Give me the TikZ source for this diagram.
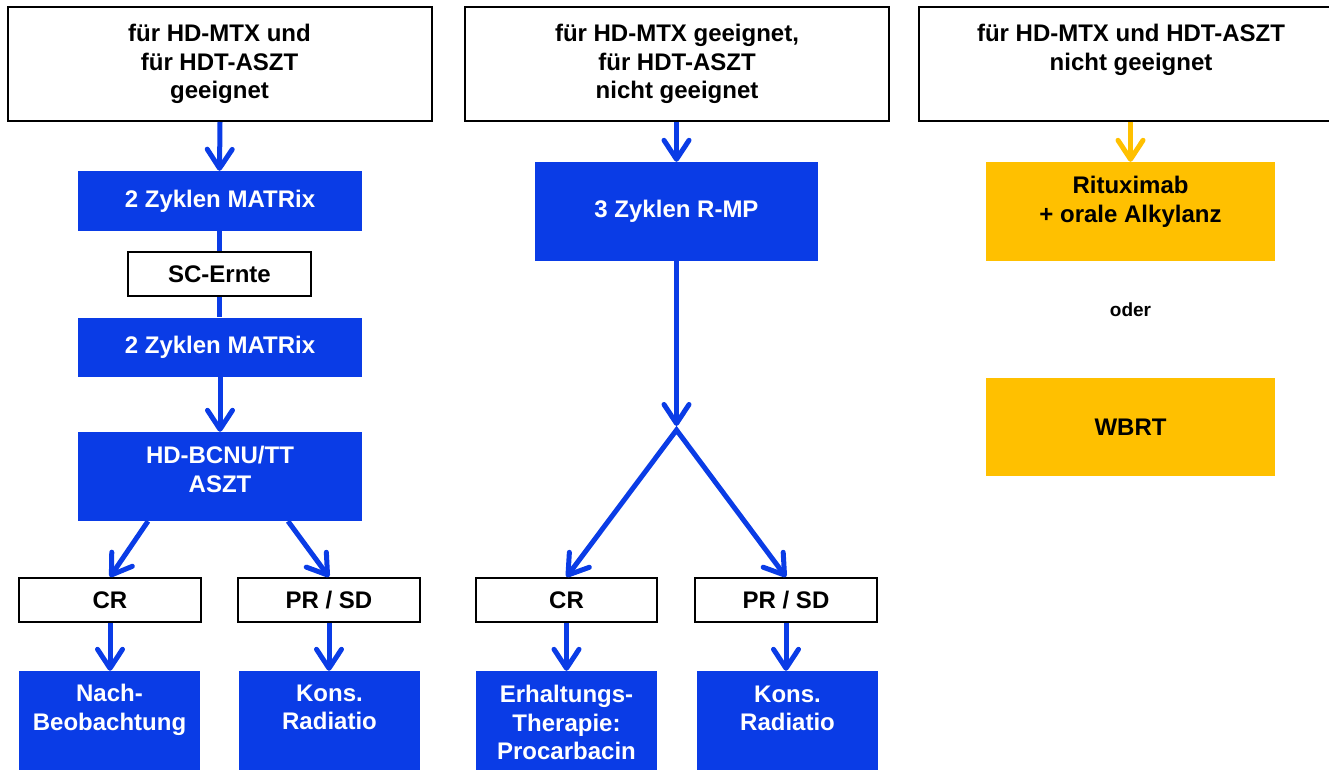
\documentclass[tikz,border=0pt]{standalone}
\usepackage{fontspec}
\setmainfont{Liberation Sans}
\usetikzlibrary{arrows.meta,calc}
\definecolor{flowblue}{RGB}{10,60,230}
\definecolor{flowgold}{RGB}{255,192,0}
\begin{document}
\begin{tikzpicture}[x=1pt,y=-1pt,
  lbl/.style={font=\fontsize{24}{28.5}\selectfont\bfseries, align=center, inner sep=0pt},
  whitebox/.style={draw=black, line width=2pt, fill=white, lbl},
  bluebox/.style={fill=flowblue, text=white, lbl},
  goldbox/.style={fill=flowgold, text=black, lbl},
  flow/.style={draw=flowblue, line width=5pt},
  tip/.tip={Straight Barb[length=19pt,width=25pt,round]},
  arr/.style={flow, -tip},
  garr/.style={draw=flowgold, line width=5pt, -tip},
]
\useasboundingbox (0,0) rectangle (1329,770);

% --- headers ---
\node[whitebox, minimum width=424pt, minimum height=114pt] (b1) at (219.5,64)
  {für HD-MTX und\\für HDT-ASZT\\geeignet};
\node[whitebox, minimum width=424pt, minimum height=114pt] (b2) at (677,64)
  {für HD-MTX geeignet,\\für HDT-ASZT\\nicht geeignet};
\node[whitebox, minimum width=424pt, minimum height=114pt] (b3) at (1131,64) {};
\node[lbl, anchor=north] (b3t) at ([yshift=-18pt]b3.north)
  {für HD-MTX und HDT-ASZT\\nicht geeignet};

% --- left column ---
\node[bluebox, minimum width=284pt, minimum height=60pt] (m1) at (220,201) {2 Zyklen MATRix};
\node[whitebox, minimum width=183pt, minimum height=44pt] (sc) at (219.5,274) {SC-Ernte};
\node[bluebox, minimum width=284pt, minimum height=59pt] (m2) at (220,347) {2 Zyklen MATRix};
\node[bluebox, minimum width=284pt, minimum height=89pt] (hdb) at (220,476.5) {};
\node[lbl, text=white, anchor=north] (hdbt) at ([yshift=-14.5pt]hdb.north) {HD-BCNU/TT\\ASZT};
\node[whitebox, minimum width=182pt, minimum height=44pt] (cr1) at (110,600) {CR};
\node[whitebox, minimum width=182pt, minimum height=44pt] (pr1) at (329,600) {PR / SD};
\node[bluebox, minimum width=181pt, minimum height=110pt] (nb) at (109.5,726) {};
\node[lbl, text=white, anchor=north] (nbt) at ([yshift=-13.5pt]nb.north) {Nach-\\Beobachtung};
\node[bluebox, minimum width=181pt, minimum height=110pt] (kr1) at (329.5,726) {};
\node[lbl, text=white, anchor=north] (kr1t) at ([yshift=-13.5pt]kr1.north) {Kons.\\Radiatio};

% --- middle column ---
\node[bluebox, minimum width=283pt, minimum height=99pt] (rmp) at (676.5,211.5) {3 Zyklen R-MP};
\coordinate (split) at (676.5,430);
\node[whitebox, minimum width=181pt, minimum height=44pt] (cr2) at (566.5,600) {CR};
\node[whitebox, minimum width=182pt, minimum height=44pt] (pr2) at (786,600) {PR / SD};
\node[bluebox, minimum width=181pt, minimum height=110pt] (et) at (566.5,726) {};
\node[lbl, text=white, anchor=north] (ett) at ([yshift=-14.5pt]et.north)
  {Erhaltungs-\\Therapie:\\Procarbacin};
\node[bluebox, minimum width=181pt, minimum height=110pt] (kr2) at (787.5,726) {};
\node[lbl, text=white, anchor=north] (kr2t) at ([yshift=-14.5pt]kr2.north) {Kons.\\Radiatio};

% --- right column ---
\node[goldbox, minimum width=289pt, minimum height=99pt] (rit) at (1130.5,211.5) {};
\node[lbl, anchor=north] (ritt) at ([yshift=-14.5pt]rit.north) {Rituximab\\+ orale Alkylanz};
\node[font=\fontsize{19}{23}\selectfont\bfseries, inner sep=0pt] (oder) at (1130.5,310) {oder};
\node[goldbox, minimum width=289pt, minimum height=98pt] (wbrt) at (1130.5,427) {WBRT};

% --- connectors ---
\draw[arr] (b1.south -| m1.north) -- (m1.north -| b1.south);
\draw[flow] (m1.south -| sc.north) -- (sc.north);
\draw[flow] (sc.south) -- (m2.north -| sc.south);
\draw[arr] (m2.south) -- (hdb.north);
\draw[arr] ([xshift=-72pt]hdb.south) -- (cr1.north);
\draw[arr] ([xshift=68pt]hdb.south) -- (pr1.north);
\draw[arr] (cr1.south) -- (nb.north -| cr1.south);
\draw[arr] (pr1.south) -- (kr1.north -| pr1.south);

\draw[arr] (b2.south -| rmp.north) -- (rmp.north);
\draw[arr] (rmp.south) -- ([yshift=4pt]split);
\draw[flow, tip-tip] (cr2.north) -- (split) -- (pr2.north);
\draw[arr] (cr2.south) -- (et.north -| cr2.south);
\draw[arr] (pr2.south) -- (kr2.north -| pr2.south);

\draw[garr] (b3.south -| rit.north) -- (rit.north);
\end{tikzpicture}
\end{document}
